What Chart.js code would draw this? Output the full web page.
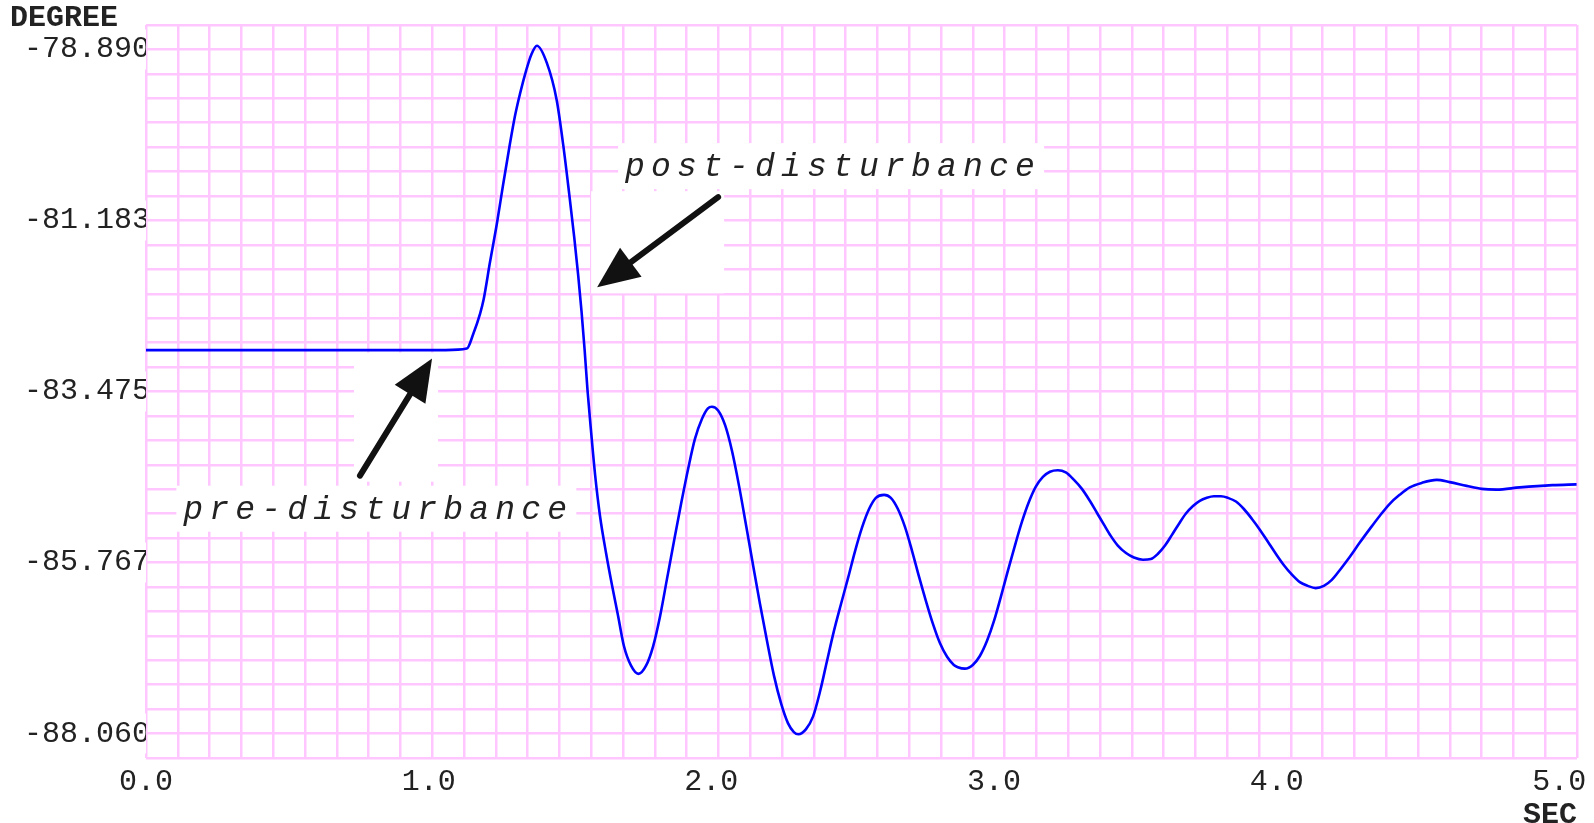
<!DOCTYPE html>
<html>
<head>
<meta charset="utf-8">
<script src="https://cdn.jsdelivr.net/npm/chart.js"></script>
<style>
  html, body { margin: 0; padding: 0; background: #fff; }
  #caja { width: 1594px; height: 823px; }
</style>
</head>
<body>
<div id="caja"><canvas id="myChart" width="1594" height="823"></canvas></div>
<script>
// tiempo (s) y angulo (grados)
const seconds = [
  0.000, 0.500, 1.060, 1.135, 1.158, 1.182, 1.194, 1.217, 1.242, 1.263,
  1.285, 1.306, 1.324, 1.345, 1.363, 1.383, 1.418, 1.453, 1.476, 1.497,
  1.515, 1.529, 1.541, 1.552, 1.562, 1.575, 1.589, 1.606, 1.628, 1.649,
  1.670, 1.691, 1.716, 1.742, 1.769, 1.794, 1.819, 1.843, 1.868, 1.893,
  1.918, 1.942, 1.967, 1.988, 2.002, 2.024, 2.049, 2.073, 2.098, 2.123,
  2.148, 2.172, 2.197, 2.222, 2.247, 2.271, 2.292, 2.308, 2.335, 2.360,
  2.385, 2.409, 2.434, 2.459, 2.484, 2.508, 2.533, 2.558, 2.582, 2.611,
  2.635, 2.660, 2.685, 2.710, 2.735, 2.759, 2.784, 2.809, 2.834, 2.858,
  2.872, 2.897, 2.925, 2.950, 2.975, 3.000, 3.024, 3.049, 3.074, 3.099,
  3.124, 3.148, 3.173, 3.198, 3.226, 3.254, 3.283, 3.311, 3.339, 3.364,
  3.389, 3.413, 3.438, 3.467, 3.495, 3.527, 3.555, 3.580, 3.605, 3.629,
  3.654, 3.679, 3.704, 3.728, 3.753, 3.778, 3.803, 3.827, 3.856, 3.884,
  3.912, 3.941, 3.969, 3.997, 4.025, 4.054, 4.082, 4.110, 4.138, 4.167,
  4.195, 4.223, 4.259, 4.294, 4.329, 4.365, 4.400, 4.435, 4.471, 4.513,
  4.566, 4.612, 4.672, 4.725, 4.778, 4.860, 4.976, 5.061
];
const degrees = [
  -82.92, -82.92, -82.92, -82.90, -82.70, -82.43, -82.25, -81.74, -81.21, -80.71,
  -80.21, -79.77, -79.47, -79.17, -78.96, -78.84, -79.07, -79.57, -80.17, -80.82,
  -81.41, -81.92, -82.41, -82.93, -83.46, -84.03, -84.60, -85.14, -85.65, -86.08,
  -86.48, -86.89, -87.15, -87.26, -87.15, -86.89, -86.48, -85.99, -85.48, -84.98,
  -84.51, -84.11, -83.84, -83.70, -83.68, -83.73, -83.93, -84.27, -84.74, -85.27,
  -85.81, -86.32, -86.82, -87.29, -87.66, -87.92, -88.04, -88.07, -88.00, -87.83,
  -87.49, -87.09, -86.68, -86.32, -85.97, -85.62, -85.30, -85.05, -84.90, -84.86,
  -84.90, -85.05, -85.29, -85.61, -85.96, -86.28, -86.59, -86.85, -87.03, -87.14,
  -87.17, -87.19, -87.14, -87.02, -86.82, -86.55, -86.23, -85.88, -85.54, -85.22,
  -84.95, -84.75, -84.62, -84.55, -84.53, -84.56, -84.66, -84.78, -84.94, -85.10,
  -85.26, -85.41, -85.54, -85.64, -85.70, -85.73, -85.72, -85.65, -85.54, -85.40,
  -85.25, -85.11, -85.01, -84.94, -84.90, -84.88, -84.88, -84.90, -84.95, -85.05,
  -85.18, -85.33, -85.49, -85.65, -85.80, -85.93, -86.03, -86.08, -86.11, -86.08,
  -86.00, -85.87, -85.69, -85.50, -85.32, -85.14, -84.98, -84.86, -84.76, -84.70,
  -84.66, -84.69, -84.74, -84.78, -84.79, -84.76, -84.73, -84.72
];

const xTickValues = [0, 1, 2, 3, 4, 5];
const xTickLabels = ["0.0", "1.0", "2.0", "3.0", "4.0", "5.0"];
const yTickValues = [-78.890, -81.183, -83.475, -85.767, -88.060];
const yTickLabels = ["-78.890", "-81.183", "-83.475", "-85.767", "-88.060"];

// rango y cuadricula
const xMin = 0, xMax = 5.0625, xPaso = 0.1125, xLineas = 45;
const yMin = -88.3875, yMax = -78.5625, yPaso = 0.3275, yLineas = 30;

const notas = [
  { text: "pre-disturbance", x: 0.132, y: -85.18, desde: [0.757, -84.603], hasta: [1.012, -83.032] },
  { text: "post-disturbance", x: 1.695, y: -80.588, desde: [2.024, -80.870], hasta: [1.596, -82.079] }
];

const fuente = '"Liberation Mono", "DejaVu Sans Mono", monospace';
const rosa = "#ffc6ff";

function armarTicks(min, paso, n, valores, textos) {
  const ticks = [];
  for (let i = 0; i <= n; i++) {
    ticks.push({ value: min + i * paso, grid: true, text: "" });
  }
  valores.forEach((v, i) => {
    const t = ticks.find((t) => Math.abs(t.value - v) < paso / 10);
    if (t) t.text = textos[i];
    else ticks.push({ value: v, grid: false, text: textos[i] });
  });
  return ticks.sort((a, b) => a.value - b.value);
}

function flecha(ctx, ax, ay, bx, by) {
  const ang = Math.atan2(by - ay, bx - ax);
  const largo = 42, medio = 18;
  const cx = bx - largo * Math.cos(ang);
  const cy = by - largo * Math.sin(ang);
  ctx.strokeStyle = "#111";
  ctx.lineWidth = 6;
  ctx.lineCap = "round";
  ctx.beginPath();
  ctx.moveTo(ax, ay);
  ctx.lineTo(cx + 4 * Math.cos(ang), cy + 4 * Math.sin(ang));
  ctx.stroke();
  ctx.fillStyle = "#111";
  ctx.beginPath();
  ctx.moveTo(bx, by);
  ctx.lineTo(cx + medio * Math.sin(ang), cy - medio * Math.cos(ang));
  ctx.lineTo(cx - medio * Math.sin(ang), cy + medio * Math.cos(ang));
  ctx.closePath();
  ctx.fill();
}

const pasoLetra = 26;

const notasPlugin = {
  id: "notas",
  beforeDatasetsDraw(chart) {
    const { ctx, scales: { x, y } } = chart;
    ctx.save();
    ctx.fillStyle = "#fff";
    notas.forEach((n) => {
      const tx = x.getPixelForValue(n.x), ty = y.getPixelForValue(n.y);
      ctx.fillRect(tx - 7, ty - 33, n.text.length * pasoLetra + 10, 46);
      const ax = x.getPixelForValue(n.desde[0]), ay = y.getPixelForValue(n.desde[1]);
      const bx = x.getPixelForValue(n.hasta[0]), by = y.getPixelForValue(n.hasta[1]);
      ctx.fillRect(Math.min(ax, bx) - 6, Math.min(ay, by) - 6, Math.abs(bx - ax) + 12, Math.abs(by - ay) + 12);
    });
    ctx.restore();
  },
  afterDatasetsDraw(chart) {
    const { ctx, scales: { x, y } } = chart;
    ctx.save();
    notas.forEach((n) => {
      const tx = x.getPixelForValue(n.x), ty = y.getPixelForValue(n.y);
      ctx.font = "italic 33px " + fuente;
      ctx.fillStyle = "#222";
      ctx.textBaseline = "alphabetic";
      ctx.textAlign = "left";
      for (let i = 0; i < n.text.length; i++) {
        ctx.fillText(n.text[i], tx + i * pasoLetra, ty);
      }
      flecha(ctx,
        x.getPixelForValue(n.desde[0]), y.getPixelForValue(n.desde[1]),
        x.getPixelForValue(n.hasta[0]), y.getPixelForValue(n.hasta[1]));
    });
    ctx.restore();
  }
};

function createChart() {
  const ctx = document.getElementById("myChart").getContext("2d");
  new Chart(ctx, {
    type: "line",
    data: {
      datasets: [
        {
          label: "DEGREE",
          data: seconds.map((t, i) => ({ x: t, y: degrees[i] })),
          borderColor: "#0000ff",
          borderWidth: 2.6,
          pointRadius: 0,
          fill: false,
          cubicInterpolationMode: "monotone",
        },
      ],
    },
    options: {
      responsive: false,
      animation: false,
      devicePixelRatio: 1,
      layout: { padding: { left: 10, right: 17, top: 0, bottom: 0 } },
      plugins: {
        legend: { display: false },
        tooltip: { enabled: false },
        title: {
          display: true,
          text: "DEGREE",
          align: "start",
          color: "#222",
          font: { family: fuente, size: 30, weight: "bold", lineHeight: 0.6 },
          padding: { top: 9, bottom: -2 },
        },
      },
      scales: {
        x: {
          type: "linear",
          min: xMin,
          max: xMax,
          afterBuildTicks: (scale) => {
            scale.ticks = armarTicks(xMin, xPaso, xLineas, xTickValues, xTickLabels);
          },
          afterFit: (scale) => {
            scale.height = 65;
          },
          ticks: {
            autoSkip: false,
            maxRotation: 0,
            minRotation: 0,
            padding: 6,
            color: "#222",
            font: { family: fuente, size: 30 },
            callback: (v, i, ticks) => ticks[i].text,
          },
          grid: {
            color: (c) => (c.tick && c.tick.grid ? rosa : "rgba(0,0,0,0)"),
            lineWidth: 2.5,
            drawTicks: false,
          },
          border: { display: false },
          title: {
            display: true,
            text: "SEC",
            align: "end",
            color: "#222",
            font: { family: fuente, size: 30, weight: "bold", lineHeight: 0.5 },
            padding: { top: 0, bottom: 0.5 },
          },
        },
        y: {
          type: "linear",
          min: yMin,
          max: yMax,
          afterBuildTicks: (scale) => {
            scale.ticks = armarTicks(yMin, yPaso, yLineas, yTickValues, yTickLabels);
          },
          afterFit: (scale) => {
            scale.width = 136;
          },
          ticks: {
            autoSkip: false,
            padding: -4,
            z: 1,
            color: "#222",
            font: { family: fuente, size: 30 },
            showLabelBackdrop: (c) => !!(c.tick && c.tick.text),
            backdropColor: "#fff",
            backdropPadding: { top: 2, bottom: 2, left: 0, right: 0 },
            callback: (v, i, ticks) => ticks[i].text,
          },
          grid: {
            color: (c) => (c.tick && c.tick.grid ? rosa : "rgba(0,0,0,0)"),
            lineWidth: 2.5,
            drawTicks: false,
          },
          border: { display: false },
        },
      },
    },
    plugins: [notasPlugin],
  });
}

createChart();
</script>
</body>
</html>
